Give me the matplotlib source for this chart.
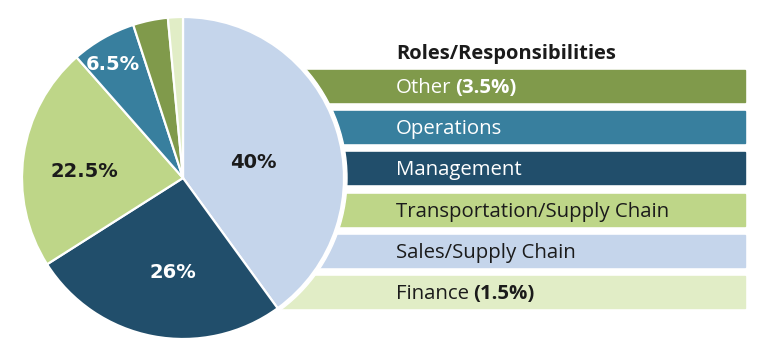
import matplotlib.pyplot as plt
import numpy as np
from matplotlib.patches import Circle, Rectangle

# share of respondents by role, clockwise from 12 o'clock
roles = ["Sales/Supply Chain", "Management", "Transportation/Supply Chain",
         "Operations", "Other", "Finance"]
shares = [40, 26, 22.5, 6.5, 3.5, 1.5]
colors = ["#c5d5eb", "#214e6b", "#bed688", "#387f9e", "#809a4b", "#e1edc6"]

# labels printed on the pie: (fraction of radius, angle nudge in degrees)
pie_labels = {"Sales/Supply Chain": (0.447, 4.4), "Management": (0.58, -4.7),
              "Transportation/Supply Chain": (0.617, -3.5), "Operations": (0.836, -1.6)}
dark_text = ["Sales/Supply Chain", "Transportation/Supply Chain", "Finance"]

# legend bars top to bottom
legend_order = ["Other", "Operations", "Management",
                "Transportation/Supply Chain", "Sales/Supply Chain", "Finance"]
show_pct = ["Other", "Finance"]

W, H = 768, 342
fig = plt.figure(figsize=(W / 100, H / 100), dpi=100)
ax = fig.add_axes([0, 0, 1, 1])
ax.set_xlim(0, W)
ax.set_ylim(H, 0)
ax.axis("off")

font = "Open Sans"
dark = "#1b1b1b"
cx, cy, r = 183, 178, 161

# legend bars run in behind the pie
bar_x0, bar_x1 = 250, 745
bar_top, bar_h, pitch = 70, 32, 41.2
for i, role in enumerate(legend_order):
    y0 = bar_top + i * pitch
    c = colors[roles.index(role)]
    ax.add_patch(Rectangle((bar_x0, y0), bar_x1 - bar_x0, bar_h, color=c, zorder=1))

# white halo separates the pie from the bars
ax.add_patch(Circle((cx, cy), r + 3, color="white", zorder=2))

# pie in an inverted-y axes: angles run clockwise on screen when counterclock=True
wedges, _ = ax.pie(shares, colors=colors, startangle=-90, counterclock=True,
                   center=(cx, cy), radius=r, frame=True,
                   wedgeprops=dict(edgecolor="white", linewidth=1.6))
for w in wedges:
    w.set_zorder(3)
ax.set_xlim(0, W)
ax.set_ylim(H, 0)
ax.set_aspect("auto")
ax.axis("off")

for w, role, val in zip(wedges, roles, shares):
    if role not in pie_labels:
        continue
    frac, nudge = pie_labels[role]
    mid = np.deg2rad((w.theta1 + w.theta2) / 2 + nudge)
    d = frac * r
    tx, ty = cx + d * np.cos(mid), cy + d * np.sin(mid)
    ax.text(tx, ty + 7, f"{val:g}%", ha="center", va="baseline", fontsize=14,
            fontweight="bold", family="DejaVu Sans", zorder=4,
            color=dark if role in dark_text else "white")

ax.text(396, 59, "Roles/Responsibilities", ha="left", va="baseline",
        fontsize=14.5, fontweight="bold", family=font, color=dark)

renderer = fig.canvas.get_renderer()
inv = ax.transData.inverted()
for i, role in enumerate(legend_order):
    yb = bar_top + i * pitch + bar_h / 2 + 7
    tc = dark if role in dark_text else "white"
    t = ax.text(396, yb, role, ha="left", va="baseline", fontsize=14.7,
                family=font, color=tc, zorder=4)
    if role in show_pct:
        bb = t.get_window_extent(renderer)
        x_end = inv.transform((bb.x1, bb.y0))[0]
        val = shares[roles.index(role)]
        ax.text(x_end + 4, yb, f"({val:g}%)", ha="left", va="baseline",
                fontsize=14.7, fontweight="bold", family=font, color=tc, zorder=4)

fig.savefig("out.png", dpi=100, facecolor="white")
